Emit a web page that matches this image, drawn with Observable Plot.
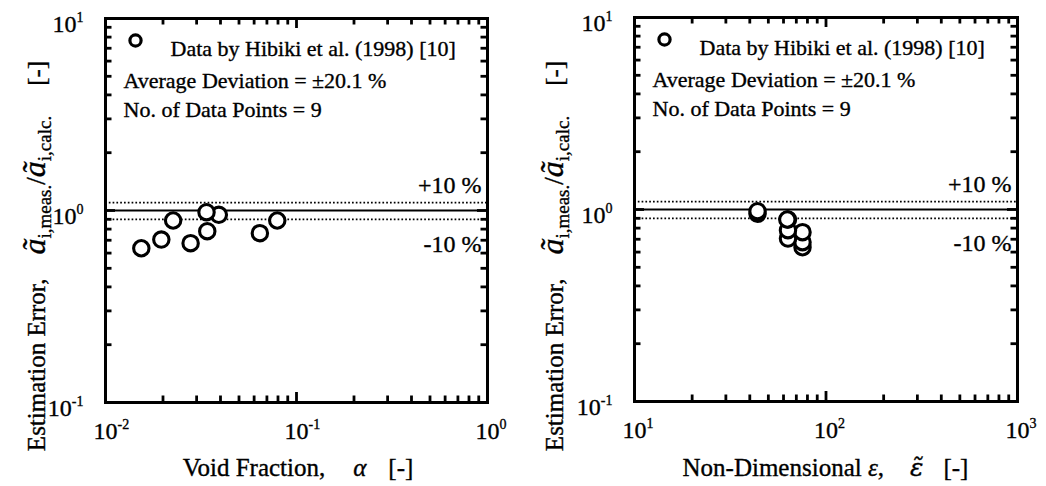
<!DOCTYPE html>
<html><head><meta charset="utf-8">
<script src="https://cdn.jsdelivr.net/npm/d3@7"></script>
<script src="https://cdn.jsdelivr.net/npm/@observablehq/plot@0.6"></script>
<style>
body{margin:0;background:#fff;}
#wrap{display:flex;width:1046px;height:486px;overflow:hidden;}
svg{font-family:"Liberation Serif","Times New Roman",serif;}
svg text{stroke:black;stroke-width:0.35px;}
</style></head><body><div id="wrap"></div>
<script>
// ---- data ----
const voidFraction    = [0.0154, 0.0196, 0.0226, 0.0279, 0.0338, 0.0341, 0.0392, 0.0643, 0.0793];
const nonDimEpsilon   = [75.4, 63.3, 63.3, 75.4, 43.9, 63.3, 43.9, 75.4, 62.8];
const estimationError = [0.636, 0.706, 0.887, 0.676, 0.980, 0.780, 0.950, 0.762, 0.887];

const yDecades  = [0.1, 1, 10];
const xDecadesL = [0.01, 0.1, 1];
const xDecadesR = [10, 100, 1000];
const yTickLabels = ["10^-1", "10^0", "10^1"];
const xTickLabelsL = ["10^-2", "10^-1", "10^0"];
const xTickLabelsR = ["10^1", "10^2", "10^3"];
const legendLines = ["Data by Hibiki et al. (1998) [10]", "Average Deviation = \u00b120.1 %", "No. of Data Points = 9"];
const bandValues = [1.1, 0.9];
const bandLabels = ["+10 %", "-10 %"];

const rows = voidFraction.map((v, i) => ({alpha: v, eps: nonDimEpsilon[i], err: estimationError[i]}))
  .sort((a, b) => a.err - b.err);

function minorOf(decades) {
  const out = [];
  for (let i = 0; i < decades.length - 1; i++) for (let k = 2; k <= 9; k++) out.push(decades[i] * k);
  return out;
}

const FONT = "Liberation Serif";
const MINOR = 6.5, MAJOR = 10;

function panel({xKey, xDecades, xLabels, ml, mr, mt, mb}) {
  const W = 523 - ml - mr, H = 486 - mt - mb;
  const xMinor = minorOf(xDecades), yMinor = minorOf(yDecades);
  const tk = {stroke: "black", strokeWidth: 2.8};
  return Plot.plot({
    width: 523, height: 486,
    marginLeft: ml, marginRight: mr, marginTop: mt, marginBottom: mb,
    style: {fontFamily: FONT, fontSize: "22px", background: "white", color: "black"},
    x: {type: "log", domain: [xDecades[0], xDecades[2]]},
    y: {type: "log", domain: [yDecades[0], yDecades[2]]},
    marks: [
      Plot.axisX({ticks: xDecades, anchor: "bottom", tickSize: 0, tickPadding: 19, label: null,
        fontSize: 24, fontFamily: FONT, fill: "black", tickFormat: d => xLabels[xDecades.indexOf(d)]}),
      Plot.axisY({ticks: yDecades, anchor: "left", tickSize: 0, tickPadding: 22, label: null,
        fontSize: 24, fontFamily: FONT, fill: "black", dy: 6, tickFormat: d => yTickLabels[yDecades.indexOf(d)]}),
      Plot.ruleY([1], {stroke: "black", strokeWidth: 2.2}),
      Plot.ruleY(bandValues, {stroke: "black", strokeWidth: 1.7, strokeDasharray: "1.7,2.1"}),
      Plot.text(bandValues, {y: d => d, frameAnchor: "right", dx: -6, textAnchor: "end",
        text: (d, i) => bandLabels[i], fontSize: 24, fontFamily: FONT, fill: "black"}),
      Plot.dot(rows, {x: xKey, y: "err", r: 7.7, stroke: "black", strokeWidth: 3.1, fill: "white"}),
      Plot.dot([0], {frameAnchor: "top-left", dx: 30, dy: 22, r: 5.6, stroke: "black", strokeWidth: 3.2, fill: "white"}),
      Plot.text([legendLines[0]], {frameAnchor: "top-left", dx: 65, dy: 22, textAnchor: "start", fontSize: 22, fontFamily: FONT, fill: "black"}),
      Plot.text([legendLines[1]], {frameAnchor: "top-left", dx: 18, dy: 54, textAnchor: "start", fontSize: 22, fontFamily: FONT, fill: "black"}),
      Plot.text([legendLines[2]], {frameAnchor: "top-left", dx: 18, dy: 83, textAnchor: "start", fontSize: 22, fontFamily: FONT, fill: "black"}),
      Plot.frame({stroke: "black", strokeWidth: 3}),
      // inward ticks on all four sides
      Plot.ruleX(xMinor, {...tk, insetTop: H - MINOR}),
      Plot.ruleX(xMinor, {...tk, insetBottom: H - MINOR}),
      Plot.ruleX(xDecades, {...tk, insetTop: H - MAJOR}),
      Plot.ruleX(xDecades, {...tk, insetBottom: H - MAJOR}),
      Plot.ruleY(yMinor, {...tk, insetRight: W - MINOR}),
      Plot.ruleY(yMinor, {...tk, insetLeft: W - MINOR}),
      Plot.ruleY(yDecades, {...tk, insetRight: W - MAJOR}),
      Plot.ruleY(yDecades, {...tk, insetLeft: W - MAJOR})
    ]
  });
}

function superscripts(svg, axis, isX) {
  d3.select(svg).selectAll(`g[aria-label="${axis}-axis tick label"] text`).each(function () {
    const t = this.textContent;
    if (!t.includes("^")) return;
    const [b, e] = t.split("^");
    this.textContent = "";
    const s = d3.select(this);
    if (isX) s.attr("text-anchor", "start");
    s.append("tspan").attr("dx", isX ? "-0.5em" : null).text(b);
    s.append("tspan").attr("font-size", 14).attr("dy", -10).text(e);
  });
}

function addLabels(svg, {yx, xMid, xBuild}) {
  const s = d3.select(svg);
  const yl = s.append("text").attr("transform", `translate(${yx},256) rotate(-90)`)
    .attr("text-anchor", "middle").attr("font-family", FONT).attr("font-size", 25).attr("fill", "black");
  yl.append("tspan").text("Estimation Error,");
  yl.append("tspan").attr("dx", 24).attr("font-style", "italic").attr("font-size", 32).text("\u00e3");
  yl.append("tspan").attr("font-size", 19).attr("dy", 6).text("i,meas.");
  yl.append("tspan").attr("font-size", 27).attr("dy", -6).text("/");
  yl.append("tspan").attr("font-style", "italic").attr("font-size", 32).text("\u00e3");
  yl.append("tspan").attr("font-size", 19).attr("dy", 6).text("i,calc.");
  yl.append("tspan").attr("font-size", 25).attr("dy", -6).attr("dx", 30).text("[-]");
  const xl = s.append("text").attr("x", xMid).attr("y", 476).attr("text-anchor", "middle")
    .attr("font-family", FONT).attr("font-size", 25).attr("fill", "black");
  xBuild(xl);
}

const wrap = document.getElementById("wrap");
const left = panel({xKey: "alpha", xDecades: xDecadesL, xLabels: xTickLabelsL, ml: 105, mr: 36, mt: 18, mb: 84});
const right = panel({xKey: "eps", xDecades: xDecadesR, xLabels: xTickLabelsR, ml: 111, mr: 29, mt: 17, mb: 85});
wrap.append(left, right);
for (const p of [left, right]) { superscripts(p, "x", true); superscripts(p, "y", false); }
for (const p of [left, right]) {
  d3.select(p).selectAll("text").filter(function () { return this.textContent === "+10 %"; }).attr("dy", -17);
  d3.select(p).selectAll("text").filter(function () { return this.textContent === "-10 %"; }).attr("dy", 25);
}
addLabels(left, {yx: 45, xMid: 298, xBuild: xl => {
  xl.append("tspan").text("Void Fraction,");
  xl.append("tspan").attr("dx", 28).attr("font-style", "italic").text("\u03b1");
  xl.append("tspan").attr("dx", 22).text("[-]");
}});
addLabels(right, {yx: 40, xMid: 302.5, xBuild: xl => {
  xl.append("tspan").text("Non-Dimensional ");
  xl.append("tspan").attr("font-style", "italic").text("\u03b5");
  xl.append("tspan").text(",");
  xl.append("tspan").attr("dx", 26).attr("font-family", "DejaVu Serif").attr("font-style", "italic").attr("font-size", 25).text("\u03b5\u0303");
  xl.append("tspan").attr("dx", 20).text("[-]");
}});
</script></body></html>
